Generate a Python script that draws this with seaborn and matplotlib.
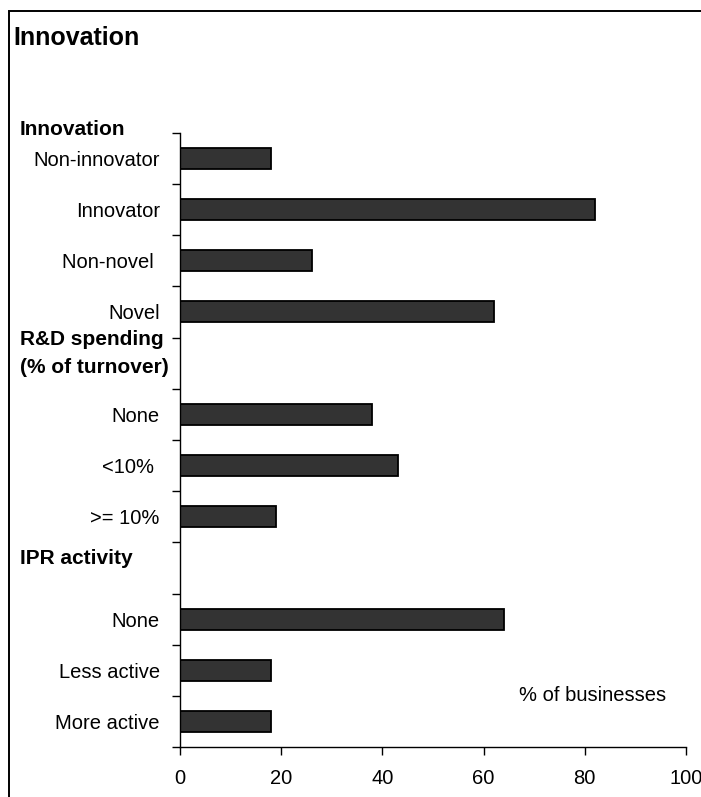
import numpy as np
import pandas as pd
import matplotlib
matplotlib.use("Agg")
import matplotlib.pyplot as plt
from matplotlib.patches import Rectangle
import seaborn as sns

# ---- data ----
labels = ["Non-innovator", "Innovator", "Non-novel ", "Novel", "",
          "None", "<10% ", ">= 10%", "",
          "None", "Less active", "More active"]
values = [18, 82, 26, 62, np.nan, 38, 43, 19, np.nan, 64, 18, 18]
headers = ["Innovation", "R&D spending\n(% of turnover)", "IPR activity"]
x_ticks = [0, 20, 40, 60, 80, 100]
title = "Innovation"
x_note = "% of businesses"

sns.set_theme(style="white")
plt.rcParams["font.family"] = ["Liberation Sans", "DejaVu Sans"]
plt.rcParams["text.color"] = "black"
plt.rcParams["xtick.color"] = "black"
plt.rcParams["ytick.color"] = "black"
plt.rcParams["axes.labelcolor"] = "black"

keys = [f"k{i}" for i in range(len(labels))]
df = pd.DataFrame({"key": keys, "value": values})

W, H = 701, 797
fig = plt.figure(figsize=(W / 100, H / 100), dpi=100)
ax = fig.add_axes([180 / W, 1 - 747.3 / H, 506 / W, (747.3 - 132.7) / H])

sns.barplot(data=df, x="value", y="key", order=keys, orient="h",
            color="#333333", saturation=1, edgecolor="black",
            linewidth=1.3, width=0.41, ax=ax)

ax.set_xlim(0, 100)
ax.set_ylim(len(labels) - 0.5, -0.5)
ax.set_xlabel("")
ax.set_ylabel("")

# major y ticks at category boundaries, labels on minor ticks at centres
ax.set_yticks(np.arange(-0.5, len(labels) + 0.5, 1))
ax.set_yticklabels([])
ax.set_yticks(np.arange(len(labels)), minor=True)
ax.set_yticklabels(labels, minor=True, fontsize=14.5, color="black")
ax.tick_params(axis="y", which="major", direction="out", length=5.5,
               width=1, color="black", left=True)
ax.tick_params(axis="y", which="minor", length=0, pad=14.5)

ax.set_xticks(x_ticks)
ax.set_xticklabels([str(t) for t in x_ticks], fontsize=14.5, color="black")
ax.tick_params(axis="x", direction="out", length=5.5, width=1,
               color="black", bottom=True, pad=10)

for side in ["top", "right"]:
    ax.spines[side].set_visible(False)
for side in ["left", "bottom"]:
    ax.spines[side].set_color("black")
    ax.spines[side].set_linewidth(1)

# titles / headers
fig.text(13 / W, 1 - 45 / H, title, fontsize=18, fontweight="bold",
         ha="left", va="baseline", color="black")
fig.text(20 / W, 1 - 135 / H, headers[0], fontsize=15, fontweight="bold",
         ha="left", va="baseline", color="black")
h1, h2 = headers[1].split("\n")
fig.text(20 / W, 1 - 345 / H, h1, fontsize=15, fontweight="bold",
         ha="left", va="baseline", color="black")
fig.text(20 / W, 1 - 373 / H, h2, fontsize=15, fontweight="bold",
         ha="left", va="baseline", color="black")
fig.text(20 / W, 1 - 564 / H, headers[2], fontsize=15, fontweight="bold",
         ha="left", va="baseline", color="black")
fig.text(519 / W, 1 - 701 / H, x_note, fontsize=14.5, ha="left",
         va="baseline", color="black")

# outer border
fig.add_artist(Rectangle((9 / W, -0.05), 2, (1 - 10.5 / H) + 0.05,
                         transform=fig.transFigure, fill=False,
                         edgecolor="black", linewidth=1.4))

fig.savefig("out.png", dpi=100)
